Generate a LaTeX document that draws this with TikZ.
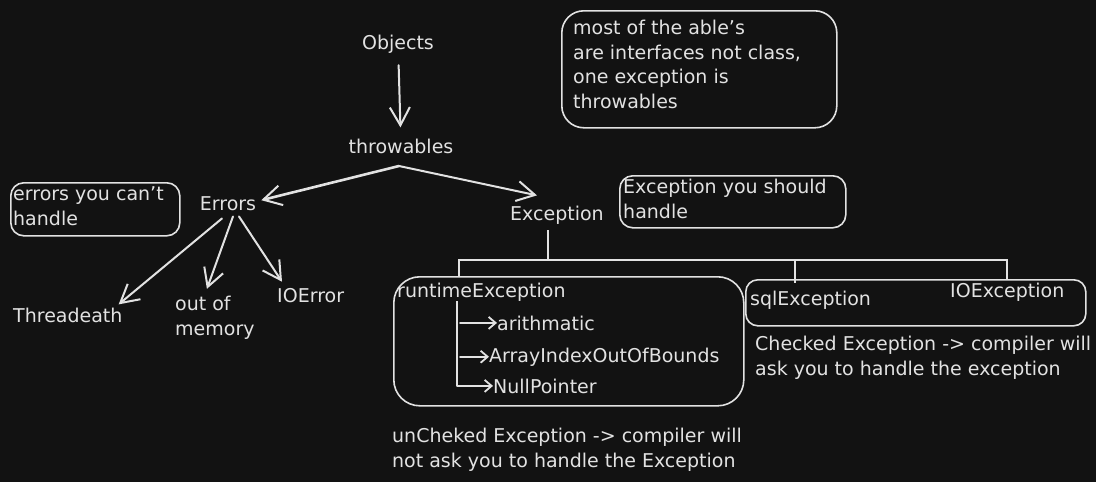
\documentclass[tikz,border=0pt]{standalone}
\usepackage{fontspec}
\setmainfont{DejaVu Sans}
\usetikzlibrary{positioning,arrows.meta}
\definecolor{board}{HTML}{121212}
\definecolor{chalk}{HTML}{E2E2E2}

\begin{document}
\begin{tikzpicture}[x=1pt,y=-1pt]
    \tikzstyle{every node}=[text=chalk,font=\fontsize{19}{24.5}\selectfont,inner sep=0]
    \tikzstyle{word}=[anchor=base]
    \tikzstyle{lword}=[anchor=base west]
    \tikzstyle{note}=[anchor=base west,align=left]
    \tikzstyle{frame}=[draw=chalk,line width=1.6,rounded corners=13,anchor=north west]
    \tikzstyle{link}=[color=chalk,line width=2,line cap=round,-{Straight Barb[length=18pt,width=20pt,line width=2pt]}]
    \tikzstyle{tick}=[color=chalk,line width=1.8,line cap=round,-{Straight Barb[length=7pt,width=12pt,line width=1.8pt]}]
    \tikzstyle{wire}=[draw=chalk,line width=1.6]
    \useasboundingbox (0,0) rectangle (1096,482);
    \fill[board] (0,0) rectangle (1096,482);
    {
        % frames
        \node[frame,minimum width=169,minimum height=53] (errframe) at (10,182) {};
        \node[frame,minimum width=226,minimum height=52] (excframe) at (619,175) {};
        \node[frame,minimum width=275,minimum height=117,rounded corners=22] (ableframe) at (561,10) {};
        \node[frame,minimum width=350,minimum height=129,rounded corners=26] (runframe) at (393,276) {};
        \node[frame,minimum width=340,minimum height=46,rounded corners=12] (chkframe) at (745,279) {};

        % hierarchy (multi-line notes sit on their last baseline)
        \node[word] (objects) at (398,49) {Objects};
        \node[word] (throwables) at (401,153) {throwables};
        \node[word] (errors) at (228,210) {Errors};
        \node[lword] (exception) at (510,220) {Exception};
        \node[lword] (thread) at (13,322) {Threadeath};
        \node[note] (oom) at (175,335) {out of\\memory};
        \node[lword] (ioerror) at (277,302) {IOError};

        \node[lword] (runexc) at (397,297) {runtimeException};
        \node[lword] (arith) at (497,330) {arithmatic};
        \node[lword] (bounds) at (489,362) {ArrayIndexOutOfBounds};
        \node[lword] (nullp) at (493,393) {NullPointer};
        \node[lword] (sqlexc) at (750,305) {sqlException};
        \node[lword] (ioexc) at (950,297) {IOException};

        % notes
        \node[note] (errnote) at (13,225) {errors you can't\\handle};
        \node[note] (excnote) at (623,218) {Exception you should\\handle};
        \node[note] (ablenote) at (573,108) {most of the able's\\are interfaces not class,\\one exception is\\throwables};
        \node[note] (chknote) at (755,375) {Checked Exception -> compiler will\\ask you to handle the exception};
        \node[note] (unchknote) at (392,467) {unCheked Exception -> compiler will\\not ask you to handle the Exception};

        \coordinate (fork) at (399,166);
        \coordinate (bus) at (548,260);
        \coordinate (spine) at ([xshift=60]runexc.south west);
        \coordinate (spineend) at (spine |- nullp.west);
        \coordinate (sqldrop) at ([xshift=50]chkframe.north west);

        \path[link]
            (objects) edge[shorten <=12,shorten >=11] (throwables)
            (errors.south) ++(-6,8) edge ([xshift=-4,yshift=3]thread.north east)
            (errors.south) ++(5,6) edge ([xshift=-8,yshift=7]oom.north)
            (errors.south) ++(11,6) edge ([xshift=5,yshift=6]ioerror.north west);

        \draw[link,line width=2.6] (fork) -- ([xshift=5,yshift=3]errors.east);
        \draw[link] (fork) -- ([xshift=-20,yshift=10]exception.north);

        \draw[wire] ([xshift=-9,yshift=-6]exception.south) -- (bus);
        \draw[wire] ([xshift=66]runframe.north west) |- (bus) -| ([xshift=262]chkframe.north west);
        \draw[wire] (sqldrop |- bus) -- ([yshift=-4]sqldrop);

        \draw[wire] (spine) -- (spineend);
        \path[tick]
            ([xshift=3]spine |- arith.west) edge (arith.west)
            ([xshift=3]spine |- bounds.west) edge (bounds.west)
            (spineend) edge (nullp.west);
    }
\end{tikzpicture}
\end{document}
